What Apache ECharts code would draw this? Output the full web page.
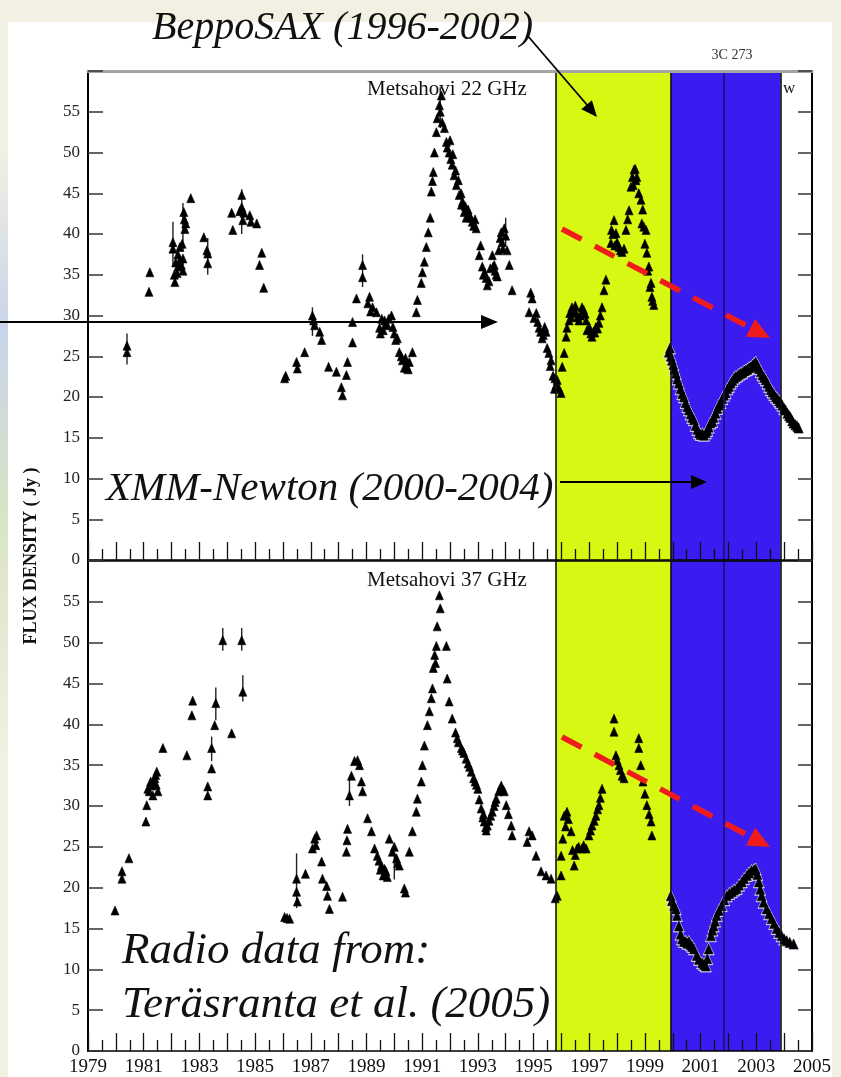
<!DOCTYPE html>
<html><head><meta charset="utf-8">
<script src="https://cdn.jsdelivr.net/npm/echarts@6/dist/echarts.min.js"></script>
<style>html,body{margin:0;padding:0;background:#f2f0e2;}#c{width:841px;height:1077px;}</style>
</head><body><div id="c"></div>
<script>
// ---- data: [year, flux density (Jy)] ----
const early22 = [[1980.40,25.5],[1980.40,26.3],[1981.19,32.9],[1981.22,35.3],
[1982.05,39.0],[1982.05,38.2],[1982.12,34.1],[1982.10,35.0],[1982.15,36.5],[1982.20,35.2],[1982.23,36.0],[1982.23,37.5],[1982.30,38.4],[1982.30,36.8],[1982.35,36.2],[1982.38,38.8],[1982.41,35.5],[1982.41,37.0],[1982.44,42.7],[1982.46,41.8],[1982.51,41.3],[1982.48,40.6],[1982.69,44.4],
[1983.16,39.6],[1983.27,38.0],[1983.30,36.4],[1983.30,37.6],
[1984.16,42.6],[1984.20,40.5],[1984.45,42.8],[1984.52,43.3],[1984.52,44.8],[1984.56,41.7],[1984.60,42.6],[1984.81,42.3],[1984.85,41.5],[1985.06,41.3],[1985.16,36.2],[1985.24,37.7],[1985.31,33.4],
[1986.06,22.3],[1986.10,22.6],[1986.49,24.3],[1986.52,23.5],[1986.78,25.5],[1987.06,30.0],[1987.10,29.4],[1987.14,28.8],[1987.32,28.0],[1987.39,27.0],[1987.64,23.7],[1987.92,23.1],
[1988.10,21.2],[1988.14,20.2],[1988.28,22.7],[1988.32,24.3],[1988.50,29.2],[1988.50,26.7],[1988.64,32.1],[1988.86,36.2],[1988.86,34.7],
[1989.05,31.5],[1989.11,32.3],[1989.15,30.5],[1989.22,31.0],[1989.36,30.4],[1989.47,28.5],[1989.50,27.8],[1989.55,29.6],[1989.60,28.2],[1989.65,29.4],[1989.70,29.0],[1989.75,28.8],[1989.80,29.6],[1989.90,30.0],[1989.95,28.6],
[1990.00,27.8],[1990.05,27.0],[1990.11,27.2],[1990.18,25.5],[1990.25,25.0],[1990.29,24.5],[1990.36,23.6],[1990.40,24.8],[1990.43,23.9],[1990.47,23.5],[1990.54,24.3],[1990.50,23.4],[1990.65,25.5],[1990.79,30.4],[1990.83,31.9],[1990.97,34.0],
[1991.01,35.3],[1991.08,36.6],[1991.15,38.4],[1991.22,40.2],[1991.29,42.0],[1991.33,45.2],[1991.37,46.5],[1991.40,47.6],[1991.44,50.0],[1991.51,52.5],[1991.54,54.2],[1991.62,55.8],[1991.69,57.0],[1991.65,55.0],[1991.72,53.7],[1991.80,53.0],[1991.87,51.3],[1991.90,50.6],[1991.97,50.0],
[1992.00,51.5],[1992.03,49.2],[1992.08,48.5],[1992.10,49.8],[1992.15,47.2],[1992.20,47.8],[1992.23,46.0],[1992.30,46.6],[1992.33,44.8],[1992.40,45.0],[1992.41,43.6],[1992.45,44.0],[1992.51,42.7],[1992.55,43.4],[1992.58,42.0],[1992.65,43.0],[1992.69,42.3],[1992.75,42.0],[1992.80,41.5],[1992.85,41.0],[1992.90,41.8],[1992.94,40.7],
[1993.05,37.4],[1993.10,38.6],[1993.16,36.0],[1993.20,35.0],[1993.25,35.2],[1993.30,34.6],[1993.34,33.7],[1993.40,34.2],[1993.45,35.8],[1993.52,37.4],[1993.55,36.0],[1993.59,36.2],[1993.62,35.5],[1993.66,35.0],[1993.70,34.8],[1993.75,38.0],[1993.80,39.5],[1993.84,40.2],[1993.87,39.0],[1993.90,38.2],[1993.95,40.7],[1994.00,39.8],[1994.05,38.0],
[1994.13,36.2],[1994.23,33.1],[1994.84,30.4],[1994.90,32.8],[1994.95,32.1],[1995.02,29.7],[1995.10,30.3],[1995.15,29.2],[1995.20,28.5],[1995.25,28.0],[1995.31,27.2],[1995.35,27.6],[1995.40,28.6],[1995.45,28.0],[1995.49,26.0],[1995.55,25.4],[1995.60,23.8],[1995.63,24.5],[1995.70,22.6],[1995.75,21.0],[1995.77,22.3],[1995.81,21.5]];
const sax22 = [[1995.85,22.1],[1995.92,21.0],[1995.99,20.5],[1996.03,23.7],[1996.10,25.4],[1996.17,27.4],[1996.20,28.5],[1996.28,29.4],[1996.30,30.3],[1996.35,29.8],[1996.38,31.0],[1996.45,30.5],[1996.50,31.2],[1996.53,30.3],[1996.58,29.8],[1996.63,29.4],[1996.68,30.0],[1996.74,31.0],[1996.80,30.7],[1996.85,30.2],[1996.89,29.4],[1996.92,28.2],
[1997.00,28.6],[1997.06,27.8],[1997.10,27.4],[1997.15,28.0],[1997.20,27.9],[1997.24,28.6],[1997.30,28.4],[1997.35,29.1],[1997.40,30.0],[1997.46,31.0],[1997.53,33.1],[1997.60,34.4],[1997.78,38.9],[1997.80,40.5],[1997.85,40.0],[1997.89,41.7],[1997.92,38.6],[1997.96,40.1],
[1998.00,39.0],[1998.07,38.4],[1998.12,38.0],[1998.18,37.8],[1998.25,38.2],[1998.32,40.5],[1998.38,41.8],[1998.43,42.9],[1998.50,45.8],[1998.55,47.0],[1998.58,46.0],[1998.61,47.9],[1998.65,48.0],[1998.68,46.6],[1998.71,47.0],[1998.78,45.0],[1998.86,44.2],[1998.89,41.3],[1998.92,43.0],[1998.96,40.9],
[1999.00,38.8],[1999.04,40.5],[1999.07,37.7],[1999.10,35.5],[1999.14,36.0],[1999.18,33.5],[1999.22,34.0],[1999.25,32.3],[1999.28,31.8],[1999.32,31.3]];
const xmm22 = [[1999.86,25.5],[1999.90,26.0],[1999.93,25.0],[1999.97,24.5],[2000.02,24.0],[2000.06,23.4],[2000.11,22.9],[2000.16,22.2],[2000.22,21.7],[2000.28,21.0],[2000.34,20.4],[2000.40,20.0],[2000.46,19.3],[2000.52,18.8],[2000.58,18.4],[2000.64,17.9],[2000.70,17.5],[2000.76,17.2],[2000.82,16.5],[2000.88,16.0],[2000.94,15.6],
[2001.00,15.4],[2001.06,15.5],[2001.12,15.3],[2001.19,15.6],[2001.24,15.9],[2001.29,16.3],[2001.35,16.8],[2001.42,17.0],[2001.47,17.5],[2001.54,18.0],[2001.60,18.6],[2001.66,19.0],[2001.72,19.3],[2001.78,19.8],[2001.84,20.2],[2001.90,20.5],[2001.96,21.0],
[2002.02,21.3],[2002.08,21.7],[2002.14,22.0],[2002.20,22.3],[2002.26,22.5],[2002.32,22.6],[2002.38,22.8],[2002.44,22.9],[2002.50,23.0],[2002.56,23.2],[2002.62,23.3],[2002.68,23.4],[2002.74,23.6],[2002.80,23.7],[2002.86,23.9],[2002.92,24.1],[2002.98,24.3],
[2003.04,23.9],[2003.09,23.5],[2003.16,23.1],[2003.22,22.7],[2003.28,22.4],[2003.34,22.1],[2003.40,21.7],[2003.46,21.3],[2003.52,20.9],[2003.58,20.6],[2003.64,20.3],[2003.70,20.0],[2003.76,19.8],[2003.82,19.5],[2003.87,19.3],[2003.93,19.0],
[2004.00,18.6],[2004.05,18.4],[2004.12,18.0],[2004.18,17.7],[2004.23,17.5],[2004.29,17.1],[2004.34,16.8],[2004.41,16.6],[2004.47,16.4],[2004.52,16.2]];

const early37 = [[1979.97,17.2],[1980.22,22.0],[1980.22,21.1],[1980.47,23.6],[1981.08,28.1],[1981.11,30.1],[1981.15,32.1],[1981.20,31.8],[1981.25,33.0],[1981.29,32.5],[1981.33,31.3],[1981.35,32.8],[1981.40,33.4],[1981.43,33.8],[1981.45,32.6],[1981.47,34.2],[1981.51,31.8],[1981.69,37.1],
[1982.55,36.2],[1982.73,41.1],[1982.76,42.9],[1983.30,31.3],[1983.30,32.4],[1983.44,34.6],[1983.44,37.1],[1983.55,39.9],[1983.59,42.6],[1983.84,50.3],[1984.16,38.9],[1984.52,50.3],[1984.56,44.0],
[1986.06,16.4],[1986.15,16.3],[1986.24,16.2],[1986.49,21.1],[1986.49,19.5],[1986.52,18.3],[1986.81,21.7],[1987.06,24.8],[1987.14,26.0],[1987.18,25.2],[1987.21,26.4],[1987.39,23.2],[1987.42,21.1],[1987.57,20.2],[1987.60,19.0],[1987.67,17.4],
[1988.14,18.9],[1988.28,24.4],[1988.30,25.8],[1988.32,27.2],[1988.39,31.3],[1988.46,33.7],[1988.57,35.5],[1988.68,35.6],[1988.75,35.0],[1988.82,33.0],[1988.86,31.8],
[1989.04,28.5],[1989.18,26.9],[1989.29,24.8],[1989.39,23.9],[1989.45,23.3],[1989.50,22.2],[1989.54,22.7],[1989.60,21.5],[1989.65,22.3],[1989.70,22.0],[1989.75,21.3],[1989.82,26.0],[1989.93,24.4],[1990.00,25.0],[1990.08,23.6],[1990.12,23.0],[1990.18,22.7],[1990.36,19.9],[1990.40,19.4],
[1990.54,24.4],[1990.65,26.9],[1990.79,29.3],[1990.83,30.9],[1990.97,33.0],[1991.01,35.0],[1991.08,37.4],[1991.19,39.9],[1991.26,41.6],[1991.33,43.2],[1991.37,44.4],[1991.40,46.9],[1991.45,48.5],[1991.48,47.5],[1991.51,49.6],[1991.54,52.0],[1991.62,55.8],[1991.65,54.2],
[1991.87,49.6],[1991.90,45.6],[1991.97,42.8],[1992.08,40.7],[1992.20,39.0],[1992.26,38.3],[1992.30,37.8],[1992.41,37.1],[1992.45,36.8],[1992.50,36.5],[1992.58,35.8],[1992.65,35.2],[1992.70,34.8],[1992.76,34.2],[1992.85,33.4],[1992.90,33.0],[1992.95,32.6],
[1993.00,32.1],[1993.05,30.8],[1993.12,29.7],[1993.18,28.6],[1993.20,29.0],[1993.23,28.1],[1993.28,27.4],[1993.30,27.0],[1993.34,27.6],[1993.40,28.2],[1993.46,28.8],[1993.52,29.3],[1993.58,30.0],[1993.62,30.5],[1993.66,30.9],[1993.75,31.8],[1993.84,32.5],[1993.90,32.0],[1993.95,31.8],[1994.02,30.1],[1994.10,29.0],[1994.20,27.6],[1994.23,26.4],
[1994.77,25.6],[1994.84,26.9],[1994.95,26.4],[1995.09,23.9],[1995.27,22.0],[1995.45,21.5],[1995.63,21.1],[1995.78,18.7]];
const sax37 = [[1995.85,19.0],[1995.99,21.5],[1995.99,23.9],[1996.05,26.0],[1996.10,28.8],[1996.15,27.5],[1996.20,29.3],[1996.25,28.4],[1996.35,26.9],[1996.40,24.6],[1996.46,22.7],[1996.50,24.0],[1996.56,24.8],[1996.62,25.0],[1996.74,24.8],[1996.80,25.2],[1996.89,24.8],[1996.99,26.4],[1997.05,27.0],[1997.10,27.6],[1997.18,28.2],[1997.24,28.8],[1997.30,29.6],[1997.35,30.1],[1997.40,31.0],[1997.46,32.1],
[1997.89,40.7],[1997.89,39.1],[1997.96,36.2],[1998.00,35.6],[1998.07,35.0],[1998.12,34.4],[1998.18,33.7],[1998.25,33.4],[1998.78,38.3],[1998.78,37.1],[1998.85,35.0],[1998.93,33.0],[1999.00,31.5],[1999.07,30.1],[1999.15,29.0],[1999.22,28.1],[1999.25,26.4]];
const xmm37 = [[1999.93,19.0],[1999.97,18.4],[2000.05,17.8],[2000.11,17.4],[2000.15,16.6],[2000.22,15.3],[2000.28,14.3],[2000.33,13.7],[2000.40,13.4],[2000.47,13.4],[2000.52,13.2],[2000.58,13.4],[2000.64,13.0],[2000.70,12.8],[2000.76,12.5],[2000.86,11.7],[2000.94,11.2],
[2001.05,10.8],[2001.12,10.6],[2001.19,10.4],[2001.24,11.3],[2001.29,12.5],[2001.37,14.1],[2001.42,14.8],[2001.47,15.3],[2001.52,15.9],[2001.58,16.6],[2001.66,17.2],[2001.76,17.8],[2001.85,18.5],[2001.94,19.0],
[2002.03,19.3],[2002.12,19.5],[2002.20,19.7],[2002.30,19.9],[2002.38,20.3],[2002.48,20.7],[2002.56,21.1],[2002.66,21.5],[2002.74,21.8],[2002.83,22.1],[2002.92,22.2],[2002.98,22.3],
[2003.04,21.6],[2003.09,20.7],[2003.14,19.8],[2003.19,19.0],[2003.26,18.2],[2003.37,17.4],[2003.46,16.8],[2003.55,16.2],[2003.64,15.6],[2003.73,15.0],[2003.82,14.5],[2003.91,14.1],[2004.00,13.7],[2004.09,13.5],[2004.20,13.3],[2004.34,13.1]];

// error bars: [year, low, high]
const err22 = [[1980.40,24.0,27.8],[1982.05,36.0,41.5],[1982.41,38.0,43.8],[1983.30,35.0,39.5],[1984.52,40.0,45.5],[1987.06,27.5,31.0],[1988.86,33.5,37.5],[1991.65,53.0,58.0],[1994.00,38.5,42.0]];
const err37 = [[1986.49,17.5,24.2],[1983.44,35.5,38.5],[1983.59,40.5,44.5],[1984.56,42.8,46.0],[1983.84,49.0,51.8],[1984.52,49.0,51.8],[1988.39,30.0,33.5],[1990.00,21.0,24.0]];

const bandSAX = [1995.81, 1999.93];
const bandXMM = [1999.93, 2003.87];
const bandLines = [1995.81, 1999.93, 2001.83, 2003.87];
const xLabelYears = [1979,1981,1983,1985,1987,1989,1991,1993,1995,1997,1999,2001,2003,2005];
const yTickLabels = [0,5,10,15,20,25,30,35,40,45,50,55];

// ---- chart ----
const SERIF = '"Liberation Serif","Times New Roman",serif';
const chart = echarts.init(document.getElementById('c'), null, {renderer:'canvas'});

function xAxisBottom(gi, labels){
  return {gridIndex:gi, type:'value', min:1979, max:2005, interval:1, position:'bottom', z:5,
    axisLine:{show:true, onZero:false, lineStyle:{color:'#000', width:1.6}},
    axisTick:{show:true, inside:true, length:18, lineStyle:{color:'#111', width:1.3}},
    minorTick:{show:true, splitNumber:2, length:11, lineStyle:{color:'#111', width:1.3}},
    splitLine:{show:false},
    axisLabel:{show:labels, margin:7, fontFamily:SERIF, fontSize:19, color:'#111',
      formatter: v => xLabelYears.includes(Math.round(v)) ? String(Math.round(v)) : ''}};
}
function xAxisTop(gi, color, w){
  return {gridIndex:gi, type:'value', min:1979, max:2005, position:'top', z:5,
    axisLine:{show:true, onZero:false, lineStyle:{color:color, width:w}},
    axisTick:{show:false}, axisLabel:{show:false}, splitLine:{show:false}};
}
function yAxisLeft(gi){
  return {gridIndex:gi, type:'value', min:0, max:60, interval:5, position:'left', z:5,
    axisLine:{show:true, onZero:false, lineStyle:{color:'#000', width:2}},
    axisTick:{show:true, inside:true, length:15, lineStyle:{color:'#333', width:1.5}},
    splitLine:{show:false},
    axisLabel:{margin:8, fontFamily:SERIF, fontSize:17, color:'#222',
      formatter: v => yTickLabels.includes(v) ? String(v) : ''}};
}
function yAxisRight(gi){
  return {gridIndex:gi, type:'value', min:0, max:60, interval:5, position:'right', z:5,
    axisLine:{show:true, onZero:false, lineStyle:{color:'#000', width:2}},
    axisTick:{show:true, inside:true, length:14, lineStyle:{color:'#333', width:1.5}},
    axisLabel:{show:false}, splitLine:{show:false}};
}
function bandSeries(gi){
  return {type:'scatter', xAxisIndex:gi*2, yAxisIndex:gi*2, data:[], z:1, silent:true,
    markArea:{silent:true, data:[
      [{xAxis:bandSAX[0], itemStyle:{color:'#d6f812', opacity:1}}, {xAxis:bandSAX[1]}],
      [{xAxis:bandXMM[0], itemStyle:{color:'#3a1cf0', opacity:1}}, {xAxis:bandXMM[1]}]
    ]},
    markLine:{silent:true, symbol:['none','none'], label:{show:false},
      data: bandLines.map((v,i) => ({xAxis:v, lineStyle:{color: i===2 ? '#1c1070' : '#111', width:1.6, type:'solid'}}))}};
}
function pts(gi, data, size, color, z){
  return {type:'scatter', xAxisIndex:gi*2, yAxisIndex:gi*2, data:data, symbol:'triangle',
    symbolSize:size, itemStyle:{color:color, borderColor:color, borderWidth:0.6, opacity:1}, z:z, silent:true, animation:false};
}
function errBars(gi, data){
  return {type:'custom', xAxisIndex:gi*2, yAxisIndex:gi*2, data:data, z:3, silent:true,
    renderItem:(params, api) => {
      const p1 = api.coord([api.value(0), api.value(1)]);
      const p2 = api.coord([api.value(0), api.value(2)]);
      return {type:'line', shape:{x1:p1[0], y1:p1[1], x2:p2[0], y2:p2[1]}, style:{stroke:'#222', lineWidth:1.4}};
    }};
}

function arrowHead(tip, base, half, color){
  const dx = tip[0]-base[0], dy = tip[1]-base[1], L = Math.hypot(dx,dy);
  const px = -dy/L*half, py = dx/L*half;
  return {type:'polygon', z:100, shape:{points:[tip,[base[0]+px,base[1]+py],[base[0]-px,base[1]-py]]}, style:{fill:color}};
}
function txt(x, y, t, font, align, fill){
  return {type:'text', z:100, x:x, y:y, style:{text:t, font:font, fill:fill||'#111', textAlign:align||'left', textVerticalAlign:'middle'}};
}

const option = {
  backgroundColor:'#f2f0e2',
  animation:false,
  grid:[{left:88, top:71, width:724, height:489}, {left:88, top:561, width:724, height:491}],
  xAxis:[xAxisBottom(0,false), xAxisTop(0,'#a4a4a4',3), xAxisBottom(1,true), xAxisTop(1,'#000',1.6)],
  yAxis:[yAxisLeft(0), yAxisRight(0), yAxisLeft(1), yAxisRight(1)],
  series:[
    bandSeries(0), bandSeries(1),
    errBars(0, err22), errBars(1, err37),
    pts(0, early22, [8,9], '#000', 3), pts(0, sax22, [8,9], '#000', 3),
    pts(0, xmm22, [11,12], '#f0f0ff', 3), pts(0, xmm22, [9,10], '#000', 4),
    pts(1, early37, [8,9], '#000', 3), pts(1, sax37, [8,9], '#000', 3),
    pts(1, xmm37, [11,12], '#f0f0ff', 3), pts(1, xmm37, [9,10], '#000', 4)
  ],
  graphic:{elements:[
    {type:'rect', z:-10, shape:{x:8, y:22, width:824, height:1060}, style:{fill:'#ffffff'}},
    {type:'rect', z:-9, shape:{x:0, y:150, width:8, height:600}, style:{fill:new echarts.graphic.LinearGradient(0,0,0,1,[{offset:0,color:'#f2f0e2'},{offset:0.3,color:'#c8d4ea'},{offset:0.6,color:'#d8e4c4'},{offset:1,color:'#f2f0e2'}])}},
    txt(152, 28, 'BeppoSAX (1996-2002)', 'italic 40px '+SERIF),
    txt(732, 55, '3C 273', '14px '+SERIF, 'center', '#333'),
    txt(367, 89, 'Metsahovi 22 GHz', '21px '+SERIF),
    txt(783, 89, 'w', '17px '+SERIF),
    txt(367, 580, 'Metsahovi 37 GHz', '21px '+SERIF),
    txt(106, 489, 'XMM-Newton (2000-2004)', 'italic 41px '+SERIF),
    txt(122, 951, 'Radio data from:', 'italic 45px '+SERIF),
    txt(122, 1005, 'Teräsranta et al. (2005)', 'italic 45px '+SERIF),
    {type:'text', z:100, x:31, y:556, rotation:Math.PI/2, style:{text:'FLUX DENSITY ( Jy )', font:'bold 18px '+SERIF, fill:'#111', textAlign:'center', textVerticalAlign:'middle'}},
    {type:'line', z:100, shape:{x1:527, y1:35, x2:588, y2:106}, style:{stroke:'#000', lineWidth:1.8}},
    arrowHead([597,117],[586.6,104.8],7,'#000'),
    {type:'line', z:100, shape:{x1:0, y1:322, x2:484, y2:322}, style:{stroke:'#000', lineWidth:1.8}},
    arrowHead([498,322],[481,322],7,'#000'),
    {type:'line', z:100, shape:{x1:560, y1:482, x2:693, y2:482}, style:{stroke:'#000', lineWidth:1.8}},
    arrowHead([707,482],[691,482],7,'#000'),
    {type:'line', z:100, shape:{x1:562, y1:229, x2:752, y2:328.5}, style:{stroke:'#f01c1c', lineWidth:5.5, lineDash:[22,15]}},
    arrowHead([770,338],[750.5,327.8],10,'#f01c1c'),
    {type:'line', z:100, shape:{x1:562, y1:737, x2:752, y2:837.5}, style:{stroke:'#f01c1c', lineWidth:5.5, lineDash:[22,15]}},
    arrowHead([770,847],[750.6,836.7],10,'#f01c1c')
  ]}
};
chart.setOption(option);
</script></body></html>
